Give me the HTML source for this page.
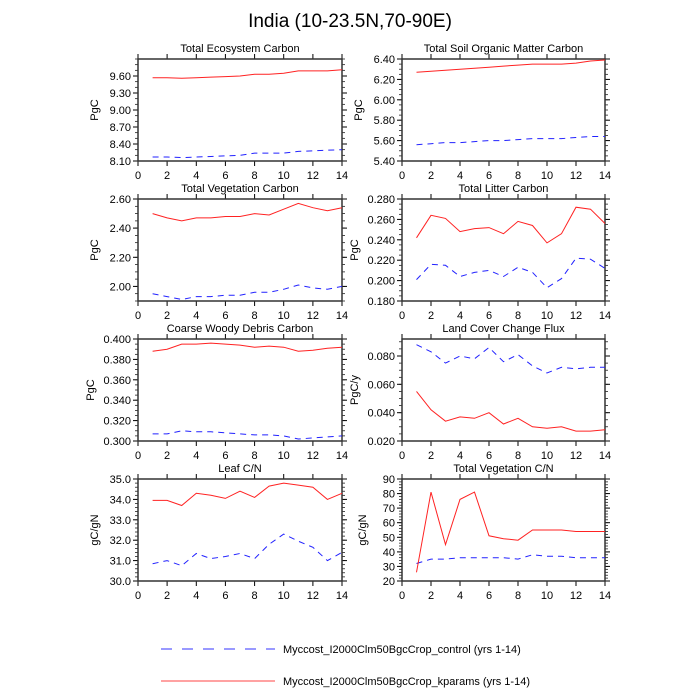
<!DOCTYPE html>
<html><head><meta charset="utf-8"><style>body{margin:0;background:#fff}svg{display:block}text{font-family:"Liberation Sans",sans-serif;fill:#000}</style></head>
<body><svg id="s" width="700" height="700" viewBox="0 0 700 700" xmlns="http://www.w3.org/2000/svg">
<text x="350" y="27" font-size="19" text-anchor="middle">India (10-23.5N,70-90E)</text>
<line x1="161" y1="649" x2="275" y2="649" stroke="#33f" stroke-dasharray="11,10"/>
<text x="283" y="653" font-size="11">Myccost_I2000Clm50BgcCrop_control (yrs 1-14)</text>
<line x1="161" y1="681" x2="275" y2="681" stroke="#f44"/>
<text x="283" y="685" font-size="11">Myccost_I2000Clm50BgcCrop_kparams (yrs 1-14)</text>
</svg>
<script>
const P=[
{t:"Total Ecosystem Carbon",c:0,r:0,y0:8.10,y1:9.90,tk:[8.10,8.40,8.70,9.00,9.30,9.60],d:2,mn:0.1,u:"PgC",
R:[9.57,9.57,9.56,9.57,9.58,9.59,9.60,9.63,9.63,9.65,9.69,9.69,9.69,9.71],
B:[8.17,8.17,8.16,8.17,8.18,8.19,8.20,8.24,8.24,8.24,8.27,8.28,8.29,8.30]},
{t:"Total Soil Organic Matter Carbon",c:1,r:0,y0:5.40,y1:6.40,tk:[5.40,5.60,5.80,6.00,6.20,6.40],d:2,mn:0.05,u:"PgC",
R:[6.27,6.28,6.29,6.30,6.31,6.32,6.33,6.34,6.35,6.35,6.35,6.36,6.38,6.39],
B:[5.56,5.57,5.58,5.58,5.59,5.60,5.60,5.61,5.62,5.62,5.62,5.63,5.64,5.64]},
{t:"Total Vegetation Carbon",c:0,r:1,y0:1.90,y1:2.60,tk:[2.00,2.20,2.40,2.60],d:2,mn:0.05,u:"PgC",
R:[2.50,2.47,2.45,2.47,2.47,2.48,2.48,2.50,2.49,2.53,2.57,2.54,2.52,2.54],
B:[1.95,1.93,1.91,1.93,1.93,1.94,1.94,1.96,1.96,1.98,2.01,1.99,1.98,2.00]},
{t:"Total Litter Carbon",c:1,r:1,y0:0.18,y1:0.28,tk:[0.18,0.20,0.22,0.24,0.26,0.28],d:3,mn:0.005,u:"PgC",
R:[.242,.264,.261,.248,.251,.252,.246,.258,.254,.237,.246,.272,.270,.256],
B:[.201,.216,.215,.204,.208,.210,.204,.213,.208,.193,.202,.222,.221,.212]},
{t:"Coarse Woody Debris Carbon",c:0,r:2,y0:0.30,y1:0.40,tk:[0.30,0.32,0.34,0.36,0.38,0.40],d:3,mn:0.005,u:"PgC",
R:[.388,.390,.395,.395,.396,.395,.394,.392,.393,.392,.388,.389,.391,.392],
B:[.307,.307,.310,.309,.309,.308,.307,.306,.306,.305,.302,.303,.304,.305]},
{t:"Land Cover Change Flux",c:1,r:2,y0:0.02,y1:0.092,tk:[0.02,0.04,0.06,0.08],d:3,mn:0.005,u:"PgC/y",
R:[.055,.042,.034,.037,.036,.040,.032,.036,.030,.029,.030,.027,.027,.028],
B:[.088,.083,.075,.080,.078,.086,.076,.081,.073,.068,.072,.071,.072,.072]},
{t:"Leaf C/N",c:0,r:3,y0:30,y1:35,tk:[30,31,32,33,34,35],d:1,mn:0.2,u:"gC/gN",
R:[33.95,33.95,33.7,34.3,34.2,34.05,34.4,34.1,34.65,34.8,34.7,34.6,34.0,34.3],
B:[30.85,31.0,30.75,31.35,31.1,31.2,31.35,31.1,31.8,32.3,31.95,31.65,31.0,31.4]},
{t:"Total Vegetation C/N",c:1,r:3,y0:20,y1:90,tk:[20,30,40,50,60,70,80,90],d:0,mn:2,u:"gC/gN",
R:[26,81,45,76,81,51,49,48,55,55,55,54,54,54],
B:[32,35,35,36,36,36,36,35,38,37,37,36,36,36]}];
let h="";
for(const p of P){
 const L=p.c?402:138,Rr=p.c?605:342,T=59+p.r*140,Bt=T+102;
 const X=v=>L+(Rr-L)*v/14,Y=v=>Bt-(Bt-T)*(v-p.y0)/(p.y1-p.y0);
 h+=`<text x="${(L+Rr)/2}" y="${T-7}" font-size="11" text-anchor="middle">${p.t}</text>`;
 for(let v=p.y0;v<=p.y1+1e-9;v+=p.mn){const y=Y(v).toFixed(1);h+=`<line x1="${L-3}" y1="${y}" x2="${L}" y2="${y}" stroke="#000" stroke-width=".7"/><line x1="${Rr}" y1="${y}" x2="${Rr+3}" y2="${y}" stroke="#000" stroke-width=".7"/>`;}
 for(const v of p.tk){const y=Y(v).toFixed(1);h+=`<line x1="${L-5}" y1="${y}" x2="${L}" y2="${y}" stroke="#000"/><line x1="${Rr}" y1="${y}" x2="${Rr+5}" y2="${y}" stroke="#000"/><text x="${L-7}" y="${+y+4}" font-size="11" text-anchor="end">${v.toFixed(p.d)}</text>`;}
 for(let v=0;v<=14;v+=2){const x=X(v).toFixed(1);h+=`<line x1="${x}" y1="${T-5}" x2="${x}" y2="${T}" stroke="#000"/><line x1="${x}" y1="${Bt}" x2="${x}" y2="${Bt+5}" stroke="#000"/><text x="${x}" y="${Bt+18}" font-size="11" text-anchor="middle">${v}</text>`;}
 h+=`<rect x="${L}" y="${T}" width="${Rr-L}" height="${Bt-T}" fill="none" stroke="#333" stroke-width="1.5"/>`;
 const ax=L-(p.d===3?44:p.d===0?36:40);
 h+=`<text x="${ax}" y="${(T+Bt)/2}" font-size="11" text-anchor="middle" transform="rotate(-90 ${ax} ${(T+Bt)/2})">${p.u}</text>`;
 const pts=a=>a.map((v,i)=>X(i+1).toFixed(1)+","+Y(v).toFixed(1)).join(" ");
 h+=`<polyline points="${pts(p.B)}" fill="none" stroke="#22f" stroke-dasharray="6,5"/>`;
 h+=`<polyline points="${pts(p.R)}" fill="none" stroke="#f22"/>`;
}
document.getElementById("s").insertAdjacentHTML("beforeend",h);
</script></body></html>
